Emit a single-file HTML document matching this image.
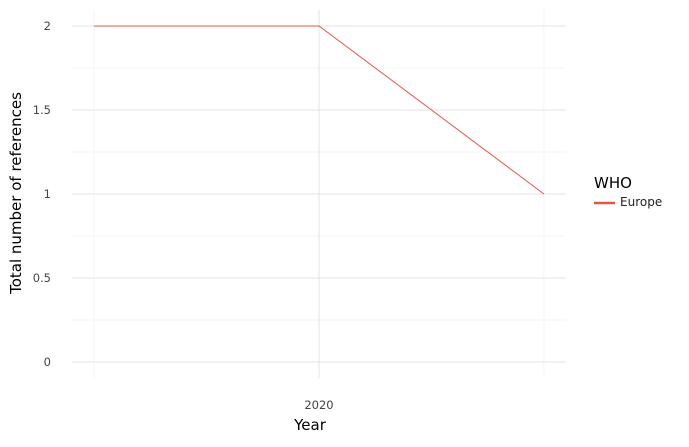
<!DOCTYPE html>
<html><head><meta charset="utf-8"><style>
body{margin:0;background:#fff;font-family:"DejaVu Sans",sans-serif}
</style></head><body>
<svg id="chart" width="689" height="443" xmlns="http://www.w3.org/2000/svg" font-family="DejaVu Sans, sans-serif">
<g id="grid"></g>
<g id="marks"></g>
<g id="axes"></g>
<text x="21" y="193" font-size="15" text-anchor="middle" transform="rotate(-90 21 193)">Total number of references</text>
<text x="310" y="430" font-size="15" text-anchor="middle">Year</text>
<g>
<text x="594" y="188" font-size="15">WHO</text>
<line x1="594" y1="203" x2="615" y2="203" stroke="#e0584a" stroke-width="2.5"/>
<text x="620" y="206" font-size="12" fill="#222">Europe</text>
</g>
</svg>
<script>
const years=[2019,2020,2021];
const refs=[2,2,1];
const yTicks=[0,0.5,1,1.5,2];
const yTickLabels=["0","0.5","1","1.5","2"];
const xTicks=[2020];
const xTickLabels=["2020"];
const NS="http://www.w3.org/2000/svg";
const xs=v=>94+(v-2019)*225;
const ys=v=>362-v*168;
function mk(tag,attrs,parent){const e=document.createElementNS(NS,tag);for(const k in attrs)e.setAttribute(k,attrs[k]);parent.appendChild(e);return e;}
const grid=document.getElementById('grid'),axes=document.getElementById('axes'),marks=document.getElementById('marks');
for(let i=0;i<yTicks.length;i++){
  const y=ys(yTicks[i]);
  const g=mk('line',{x1:72,x2:566,y1:y,y2:y,stroke:'#e3e3e3','stroke-width':1},grid);
  
  
  if(i<yTicks.length-1){const ym=ys((yTicks[i]+yTicks[i+1])/2);
    const m=mk('line',{x1:72,x2:566,y1:ym,y2:ym,stroke:'#f5f5f5','stroke-width':1},grid);
    
    }
  const t=mk('text',{x:51,y:y+4,'font-size':11.5,fill:'#444','text-anchor':'end'},axes);
  t.textContent=yTickLabels[i];
  
  
}
[2019,2021].forEach(v=>{const m=mk('line',{x1:xs(v),x2:xs(v),y1:10,y2:378,stroke:'#f5f5f5','stroke-width':1},grid);
  
  });
for(let i=0;i<xTicks.length;i++){
  const x=xs(xTicks[i]);
  const g=mk('line',{x1:x,x2:x,y1:10,y2:378,stroke:'#e3e3e3','stroke-width':1},grid);
  
  
  const t=mk('text',{x:x,y:409,'font-size':11.5,fill:'#444','text-anchor':'middle'},axes);
  t.textContent=xTickLabels[i];
  
  
}
const pts=years.map((y,i)=>xs(y)+','+ys(refs[i])).join(' ');
const pl=mk('polyline',{points:pts,fill:'none',stroke:'#e0584a','stroke-width':1},marks);


</script>
</body></html>
